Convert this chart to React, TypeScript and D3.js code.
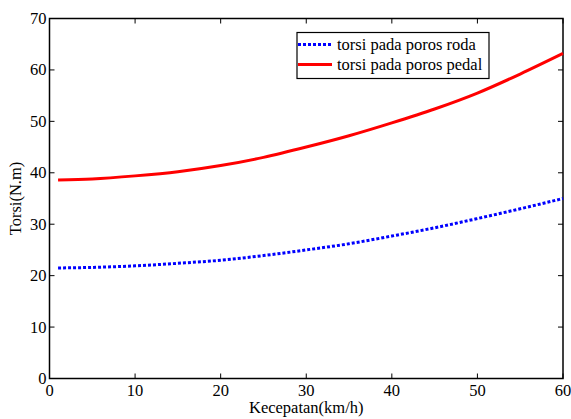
import React, { useRef, useEffect } from 'react';
import * as d3 from 'd3';

// kecepatan (km/h)
const speed = [1, 5, 10, 15, 20, 25, 30, 35, 40, 45, 50, 55, 60];
// torsi pada poros roda (N.m)
const torsiRoda = [21.5, 21.6, 21.9, 22.4, 23.0, 23.9, 25.0, 26.2, 27.7, 29.3, 31.1, 33.0, 35.0];
// torsi pada poros pedal (N.m)
const torsiPedal = [38.6, 38.8, 39.4, 40.2, 41.4, 43.0, 45.0, 47.2, 49.7, 52.4, 55.5, 59.2, 63.2];

const xTicks = [0, 10, 20, 30, 40, 50, 60];
const yTicks = [0, 10, 20, 30, 40, 50, 60, 70];

export default function App() {
  const svgRef = useRef<SVGSVGElement>(null);

  useEffect(() => {
    const svg = d3.select(svgRef.current);
    svg.selectAll('*').remove();

    const width = 571;
    const height = 419;
    const margin = { top: 18.5, right: 8, bottom: 40.5, left: 49.5 };
    const fs = 16.5;

    const x = d3.scaleLinear().domain([0, 60]).range([margin.left, width - margin.right]);
    const y = d3.scaleLinear().domain([0, 70]).range([height - margin.bottom, margin.top]);

    // white plot area + box
    svg.append('rect')
      .attr('x', x(0)).attr('y', y(70))
      .attr('width', x(60) - x(0)).attr('height', y(0) - y(70))
      .attr('fill', 'white').attr('stroke', 'black').attr('stroke-width', 1.5);

    // ticks inward on all four sides
    const tickLen = 5;
    const g = svg.append('g').attr('stroke', 'black').attr('stroke-width', 1);
    xTicks.forEach(t => {
      g.append('line').attr('x1', x(t)).attr('x2', x(t)).attr('y1', y(0)).attr('y2', y(0) - tickLen);
      g.append('line').attr('x1', x(t)).attr('x2', x(t)).attr('y1', y(70)).attr('y2', y(70) + tickLen);
    });
    yTicks.forEach(t => {
      g.append('line').attr('x1', x(0)).attr('x2', x(0) + tickLen).attr('y1', y(t)).attr('y2', y(t));
      g.append('line').attr('x1', x(60)).attr('x2', x(60) - tickLen).attr('y1', y(t)).attr('y2', y(t));
    });

    // tick labels
    svg.append('g').selectAll('text').data(xTicks).enter().append('text')
      .attr('x', d => x(d)).attr('y', y(0) + 17)
      .attr('text-anchor', 'middle')
      .attr('font-size', fs)
      .text(d => d);

    svg.append('g').selectAll('text').data(yTicks).enter().append('text')
      .attr('x', x(0) - 3).attr('y', d => y(d) + 5.5)
      .attr('text-anchor', 'end')
      .attr('font-size', fs)
      .text(d => d);

    // axis labels
    svg.append('text')
      .attr('x', (x(0) + x(60)) / 2).attr('y', 413)
      .attr('text-anchor', 'middle')
      .attr('font-size', fs)
      .text('Kecepatan(km/h)');

    svg.append('text')
      .attr('transform', `translate(21,${(y(0) + y(70)) / 2}) rotate(-90)`)
      .attr('text-anchor', 'middle')
      .attr('font-size', fs)
      .text('Torsi(N.m)');

    // lines
    const line = d3.line<number>()
      .x((d, i) => x(speed[i]))
      .y(d => y(d))
      .curve(d3.curveMonotoneX);

    svg.append('path')
      .attr('d', line(torsiRoda))
      .attr('fill', 'none').attr('stroke', '#0000ff')
      .attr('stroke-width', 3).attr('stroke-dasharray', '3,2');

    svg.append('path')
      .attr('d', line(torsiPedal))
      .attr('fill', 'none').attr('stroke', '#ff0000')
      .attr('stroke-width', 3);

    // legend
    const legend = svg.append('g');
    legend.append('rect')
      .attr('x', 297).attr('y', 32.5).attr('width', 192).attr('height', 46)
      .attr('fill', 'white').attr('stroke', 'black').attr('stroke-width', 1.2);

    const items = [
      { label: 'torsi pada poros roda', color: '#0000ff', dash: '3,2' },
      { label: 'torsi pada poros pedal', color: '#ff0000', dash: null },
    ];
    items.forEach((it, i) => {
      const cy = 44.5 + i * 20;
      legend.append('line')
        .attr('x1', 298).attr('x2', 332).attr('y1', cy).attr('y2', cy)
        .attr('stroke', it.color).attr('stroke-width', 3)
        .attr('stroke-dasharray', it.dash);
      legend.append('text')
        .attr('x', 337).attr('y', cy + 5)
        .attr('font-size', fs)
        .text(it.label);
    });
  }, []);

  return (
    <svg ref={svgRef} width={571} height={419}
      fontFamily="'Liberation Serif', 'Times New Roman', serif"
      style={{ position: 'absolute', left: 0, top: 0, background: 'white' }} />
  );
}
